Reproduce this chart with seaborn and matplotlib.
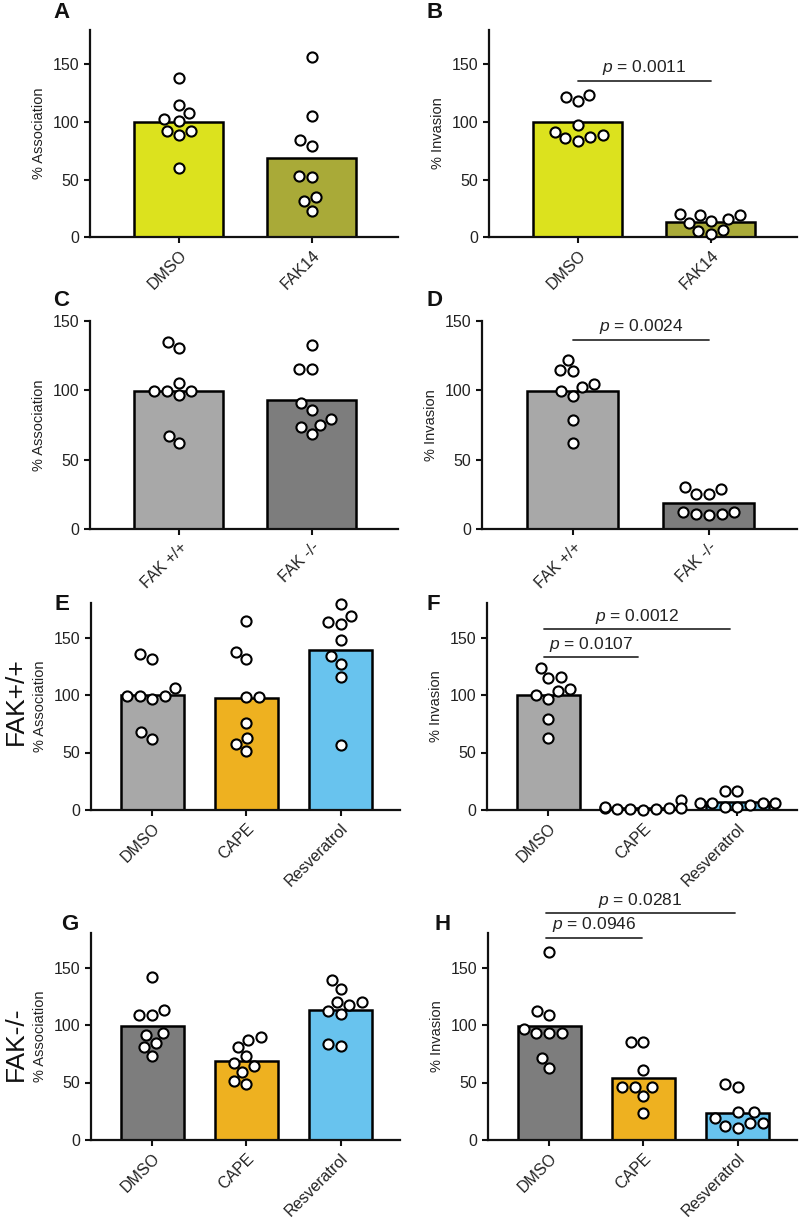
import numpy as np
import pandas as pd
import matplotlib
matplotlib.use("Agg")
import matplotlib.pyplot as plt
import seaborn as sns

sns.set_style("ticks")
plt.rcParams["font.family"] = ["Liberation Sans", "DejaVu Sans"]
plt.rcParams["mathtext.fontset"] = "custom"
plt.rcParams["mathtext.rm"] = "Liberation Sans"
plt.rcParams["mathtext.it"] = "Liberation Sans:italic"

# Panel A - association, FAK14 inhibitor
a_groups = ["DMSO", "FAK14"]
a_dmso = [138.5, 114.5, 107.9, 102.7, 101.0, 92.3, 92.3, 88.6, 59.7]
a_fak14 = [156.4, 105.6, 84.0, 79.3, 53.0, 52.5, 34.6, 31.2, 22.5]

# Panel B - invasion, FAK14 inhibitor
b_groups = ["DMSO", "FAK14"]
b_dmso = [118.3, 121.7, 123.5, 97.2, 91.5, 83.4, 88.3, 85.7, 86.6]
b_fak14 = [19.3, 19.3, 19.9, 12.1, 15.9, 13.6, 6.3, 4.9, 2.6]

# Panel C - association, FAK genotype
c_groups = ["FAK +/+", "FAK -/-"]
c_wt = [130.8, 134.9, 105.4, 99.7, 99.7, 96.3, 99.7, 61.8, 67.3]
c_ko = [133.0, 115.5, 115.5, 91.0, 85.8, 79.5, 75.2, 73.6, 68.5]

# Panel D - invasion, FAK genotype
d_groups = ["FAK +/+", "FAK -/-"]
d_wt = [122.2, 114.5, 114.0, 102.5, 104.9, 99.7, 96.1, 78.6, 62.3]
d_ko = [30.2, 25.4, 25.4, 28.8, 12.2, 10.8, 10.3, 10.8, 12.2]

# Panels E-H - drugs
drug_groups = ["DMSO", "CAPE", "Resveratrol"]
e_dmso = [131.3, 135.6, 105.9, 99.5, 99.5, 96.6, 99.5, 62.0, 67.8]
e_cape = [164.4, 137.0, 131.3, 98.1, 98.1, 75.6, 62.9, 57.7, 51.4]
e_resv = [178.9, 168.8, 162.1, 163.6, 147.7, 133.6, 126.9, 115.4, 56.3]

f_dmso = [123.2, 115.4, 114.8, 103.9, 105.3, 96.6, 100.1, 79.3, 62.9]
f_cape = [9.0, 2.0, 1.5, 0.5, 0.0, 0.5, 1.0, 2.0, 2.5]
f_resv = [16.4, 16.4, 6.3, 5.8, 6.3, 5.8, 2.3, 2.9, 4.3]

g_dmso = [141.4, 113.1, 108.8, 108.8, 91.5, 93.2, 84.5, 80.8, 72.7]
g_cape = [89.4, 87.1, 80.8, 73.0, 67.2, 64.3, 59.1, 51.1, 49.0]
g_resv = [139.3, 131.3, 119.7, 120.3, 112.5, 117.4, 109.6, 81.4, 83.7]

h_dmso = [163.9, 109.1, 111.9, 96.1, 93.2, 93.2, 93.2, 71.5, 62.9]
h_cape = [85.1, 85.1, 61.2, 46.2, 46.2, 46.2, 38.1, 23.9]
h_resv = [46.2, 48.5, 24.5, 24.5, 19.3, 14.4, 10.7, 12.4, 14.4]

yellow = "#dce21e"
olive = "#a9aa38"
light_gray = "#a8a8a8"
dark_gray = "#7d7d7d"
orange = "#eeb120"
blue = "#68c3ee"


def make_df(groups, series):
    rows = []
    for g, vals in zip(groups, series):
        for v in vals:
            rows.append({"group": g, "value": v})
    return pd.DataFrame(rows)


def panel(fig, rect, groups, series, colors, ylabel, ymax, yticks):
    ax = fig.add_axes(rect)
    df = make_df(groups, series)
    sns.barplot(data=df, x="group", y="value", hue="group", order=groups,
                hue_order=groups, palette=colors, saturation=1, errorbar=None,
                width=0.67, edgecolor="black", linewidth=1.8, legend=False, ax=ax)
    sns.swarmplot(data=df, x="group", y="value", order=groups, color="white",
                  edgecolor="black", linewidth=1.5, size=7.3, ax=ax)
    for c in ax.collections:
        c.set_clip_on(False)
        c.set_zorder(5)
    n = len(groups)
    if n == 2:
        ax.set_xlim(-0.67, 1.65)
    else:
        ax.set_xlim(-0.65, 2.63)
    ax.set_ylim(0, ymax)
    ax.set_yticks(yticks)
    ax.set_xlabel("")
    ax.set_ylabel(ylabel, fontsize=10.5, color="#222222", labelpad=5)
    ax.set_xticks(range(n))
    ax.set_xticklabels(groups, rotation=45, ha="right", rotation_mode="anchor",
                       fontsize=11.5, color="#222222")
    ax.tick_params(axis="y", labelsize=11.5, labelcolor="#222222")
    ax.tick_params(direction="out", length=4, width=1.5, color="#111111")
    sns.despine(ax=ax)
    for s in ["left", "bottom"]:
        ax.spines[s].set_linewidth(1.6)
        ax.spines[s].set_color("#111111")
    return ax


def pline(ax, x0, x1, y, text):
    ax.plot([x0, x1], [y, y], color="#333333", lw=1.3, clip_on=False)
    ax.text((x0 + x1) / 2, y + 3, text, ha="center", va="bottom",
            fontsize=12.5, color="#222222", clip_on=False)


W, H = 800, 1217
fig = plt.figure(figsize=(W / 100, H / 100), dpi=100)


def rect(left, right, top, bottom):
    return [left / W, 1 - bottom / H, (right - left) / W, (bottom - top) / H]


ticks = [0, 50, 100, 150]
ax_a = panel(fig, rect(90, 398, 30, 237), a_groups, [a_dmso, a_fak14],
             [yellow, olive], "% Association", 180, ticks)
ax_b = panel(fig, rect(489, 797, 30, 237), b_groups, [b_dmso, b_fak14],
             [yellow, olive], "% Invasion", 180, ticks)
ax_c = panel(fig, rect(90, 398, 321, 529), c_groups, [c_wt, c_ko],
             [light_gray, dark_gray], "% Association", 150, ticks)
ax_d = panel(fig, rect(482, 797, 321, 529), d_groups, [d_wt, d_ko],
             [light_gray, dark_gray], "% Invasion", 150, ticks)
ax_e = panel(fig, rect(91, 400, 603, 810), drug_groups, [e_dmso, e_cape, e_resv],
             [light_gray, orange, blue], "% Association", 180, ticks)
ax_f = panel(fig, rect(487, 797, 603, 810), drug_groups, [f_dmso, f_cape, f_resv],
             [light_gray, orange, blue], "% Invasion", 180, ticks)
ax_g = panel(fig, rect(91, 400, 933, 1140), drug_groups, [g_dmso, g_cape, g_resv],
             [dark_gray, orange, blue], "% Association", 180, ticks)
ax_h = panel(fig, rect(488, 797, 933, 1140), drug_groups, [h_dmso, h_cape, h_resv],
             [dark_gray, orange, blue], "% Invasion", 180, ticks)

# significance lines
pp = r"$\it{p}$"
pline(ax_b, 0, 1, 136, pp + " = 0.0011")
pline(ax_d, 0, 1, 136, pp + " = 0.0024")
pline(ax_f, -0.05, 1.92, 157, pp + " = 0.0012")
pline(ax_f, -0.05, 0.95, 133, pp + " = 0.0107")
pline(ax_h, -0.03, 1.97, 197, pp + " = 0.0281")
pline(ax_h, -0.03, 0.98, 176, pp + " = 0.0946")

# panel letters
letters = [("A", 62, 12), ("B", 435, 12), ("C", 61, 300), ("D", 435, 300),
           ("E", 62, 604), ("F", 433, 604), ("G", 70, 925), ("H", 443, 924)]
for t, x, y in letters:
    fig.text(x / W, 1 - y / H, t, ha="center", va="center", fontsize=16,
             fontweight="bold", color="#111111")

# row labels
fig.text(16 / W, 1 - 701 / H, "FAK+/+", rotation=90, ha="center", va="center",
         fontsize=19, color="#111111")
fig.text(16 / W, 1 - 1044 / H, "FAK-/-", rotation=90, ha="center", va="center",
         fontsize=19, color="#111111")

fig.savefig("out.png", dpi=100)
